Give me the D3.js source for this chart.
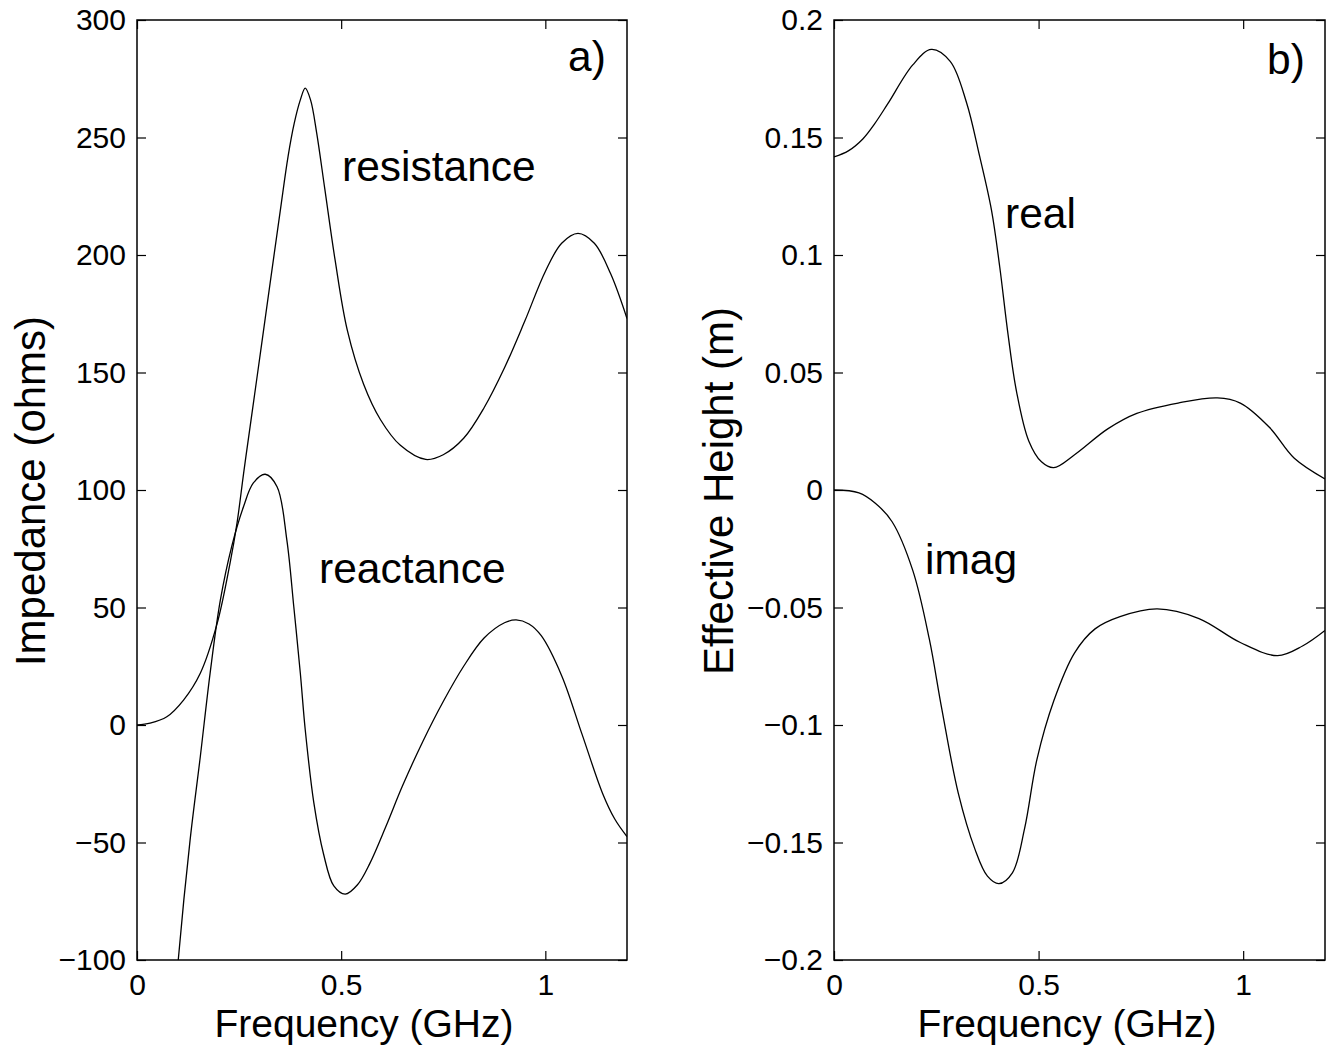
<html>
<head>
<meta charset="utf-8">
<title>Impedance and effective height</title>
<script src="https://cdn.jsdelivr.net/npm/d3@7"></script>
<style>
  body { margin: 0; background: #fff; }
  text { font-family: "Liberation Sans", Arial, Helvetica, sans-serif; fill: #000; }
  .tick text { font-size: 30px; }
  .tick line { stroke: #000; stroke-width: 1.2px; }
  .lbl { font-size: 39px; }
  .ylbl { font-size: 42px; }
  .note { font-size: 42.5px; }
</style>
</head>
<body>
<div id="chart"></div>
<script>
// panel a) impedance vs frequency
var freqA =      [0, 0.032, 0.073, 0.114, 0.155, 0.196, 0.228, 0.245, 0.261, 0.277, 0.302, 0.326, 0.351, 0.37, 0.385, 0.40, 0.412, 0.425, 0.44, 0.46, 0.485, 0.515, 0.555, 0.596, 0.645, 0.707, 0.75, 0.80, 0.85, 0.90, 0.95, 1.0, 1.04, 1.08, 1.12, 1.16, 1.2];
var resistance = [0, 0.8, 3.5, 10.6, 22, 43, 69, 86, 107, 127, 158, 188, 219, 242, 256, 266, 271, 266, 252, 228, 198, 168, 145, 130, 119, 113, 115, 122, 135, 152, 172, 193, 205, 209.2, 205, 192, 173];

var freqX =     [0.09, 0.101, 0.13, 0.155, 0.179, 0.204, 0.232, 0.261, 0.285, 0.314, 0.343, 0.367, 0.384, 0.4, 0.412, 0.433, 0.457, 0.482, 0.51, 0.54, 0.57, 0.61, 0.65, 0.70, 0.75, 0.80, 0.85, 0.90, 0.9286, 0.96, 0.99, 1.04, 1.09, 1.14, 1.17, 1.2];
var reactance = [-125, -100, -49, -13.5, 22, 53, 76, 93, 103, 106.7, 101.4, 78.7, 50.3, 22, -2, -33, -55, -68.5, -72, -68, -59, -43, -26, -7, 10, 25, 37, 43.5, 44.7, 43, 38, 21, -4, -29, -40, -47.5];

// panel b) effective height vs frequency
var freqR = [0, 0.035, 0.071, 0.10, 0.132, 0.1925, 0.238, 0.284, 0.324, 0.355, 0.385, 0.405, 0.4255, 0.446, 0.476, 0.507, 0.537, 0.588, 0.669, 0.74, 0.841, 0.937, 0.993, 1.064, 1.125, 1.2];
var realH = [0.1417, 0.1443, 0.1495, 0.156, 0.1645, 0.1809, 0.1875, 0.1824, 0.1648, 0.1427, 0.119, 0.095, 0.066, 0.042, 0.0209, 0.012, 0.0095, 0.015, 0.026, 0.0326, 0.037, 0.0392, 0.037, 0.0267, 0.0135, 0.0047];

var freqI = [0, 0.061, 0.101, 0.142, 0.1925, 0.233, 0.263, 0.304, 0.344, 0.375, 0.403, 0.436, 0.466, 0.496, 0.537, 0.588, 0.638, 0.699, 0.79, 0.892, 0.993, 1.084, 1.145, 1.2];
var imagH = [0, -0.0012, -0.0056, -0.0135, -0.0342, -0.0635, -0.0927, -0.1292, -0.1526, -0.1643, -0.1675, -0.1629, -0.1439, -0.1146, -0.0898, -0.0693, -0.0591, -0.0539, -0.0506, -0.0547, -0.0649, -0.0705, -0.0664, -0.0598];

var ticksA = [-100, -50, 0, 50, 100, 150, 200, 250, 300];
var ticksB = [-0.2, -0.15, -0.1, -0.05, 0, 0.05, 0.1, 0.15, 0.2];
var freqTicks = [0, 0.5, 1];

var W = 1331, H = 1055;
var top0 = 20, bottom0 = 960;

var svg = d3.select("#chart").append("svg")
    .attr("width", W)
    .attr("height", H);
svg.append("rect").attr("width", W).attr("height", H).attr("fill", "#fff");

function fmt(d) {
  var s = String(+d.toFixed(3));
  return d < 0 ? "\u2212" + s.slice(1) : s;
}

function zip(xs, ys) {
  return xs.map(function(x, i) { return [x, ys[i]]; });
}

function drawPanel(opt) {
  var x = d3.scaleLinear().domain([0, 1.2]).range([opt.left, opt.right]);
  var y = d3.scaleLinear().domain(opt.yDomain).range([bottom0, top0]);

  var g = svg.append("g");

  var clipId = "clip" + opt.id;
  svg.append("clipPath").attr("id", clipId)
    .append("rect")
      .attr("x", opt.left).attr("y", top0)
      .attr("width", opt.right - opt.left).attr("height", bottom0 - top0);

  // axes, ticks pointing inward
  g.append("g")
      .attr("transform", "translate(0," + bottom0 + ")")
      .call(d3.axisBottom(x).tickValues(freqTicks).tickSize(-9).tickPadding(14).tickFormat(fmt))
      .call(function(a) { a.select(".domain").remove(); a.attr("font-size", null).attr("font-family", null); });
  g.append("g")
      .attr("transform", "translate(0," + top0 + ")")
      .call(d3.axisTop(x).tickValues(freqTicks).tickSize(-9).tickFormat(""))
      .call(function(a) { a.select(".domain").remove(); });
  g.append("g")
      .attr("transform", "translate(" + opt.left + ",0)")
      .call(d3.axisLeft(y).tickValues(opt.ticks).tickSize(-9).tickPadding(11).tickFormat(fmt))
      .call(function(a) { a.select(".domain").remove(); a.attr("font-size", null).attr("font-family", null); });
  g.append("g")
      .attr("transform", "translate(" + opt.right + ",0)")
      .call(d3.axisRight(y).tickValues(opt.ticks).tickSize(-9).tickFormat(""))
      .call(function(a) { a.select(".domain").remove(); });

  g.append("rect")
      .attr("x", opt.left).attr("y", top0)
      .attr("width", opt.right - opt.left).attr("height", bottom0 - top0)
      .attr("fill", "none").attr("stroke", "#000").attr("stroke-width", 1.5);

  var line = d3.line()
      .x(function(d) { return x(d[0]); })
      .y(function(d) { return y(d[1]); })
      .curve(d3.curveCatmullRom.alpha(0.5));

  opt.series.forEach(function(s) {
    g.append("path")
        .datum(s)
        .attr("clip-path", "url(#" + clipId + ")")
        .attr("fill", "none")
        .attr("stroke", "#000")
        .attr("stroke-width", 1.3)
        .attr("d", line);
  });

  // labels
  g.append("text").attr("class", "lbl")
      .attr("x", opt.xLabelX).attr("y", 1037)
      .attr("text-anchor", "middle")
      .text("Frequency (GHz)");
  g.append("text").attr("class", "ylbl")
      .attr("transform", "translate(" + opt.yLabelX + ",491) rotate(-90)")
      .attr("text-anchor", "middle")
      .text(opt.yLabel);

  opt.notes.forEach(function(n) {
    g.append("text").attr("class", "note")
        .attr("x", n[1]).attr("y", n[2])
        .text(n[0]);
  });
}

drawPanel({
  id: "a", left: 137, right: 627,
  yDomain: [-100, 300], ticks: ticksA,
  series: [zip(freqA, resistance), zip(freqX, reactance)],
  xLabelX: 364, yLabelX: 45, yLabel: "Impedance (ohms)",
  notes: [["a)", 568, 71], ["resistance", 342, 181], ["reactance", 319, 583]]
});

drawPanel({
  id: "b", left: 834, right: 1325,
  yDomain: [-0.2, 0.2], ticks: ticksB,
  series: [zip(freqR, realH), zip(freqI, imagH)],
  xLabelX: 1067, yLabelX: 733, yLabel: "Effective Height (m)",
  notes: [["b)", 1267, 74], ["real", 1005, 228], ["imag", 925, 574]]
});
</script>
</body>
</html>
